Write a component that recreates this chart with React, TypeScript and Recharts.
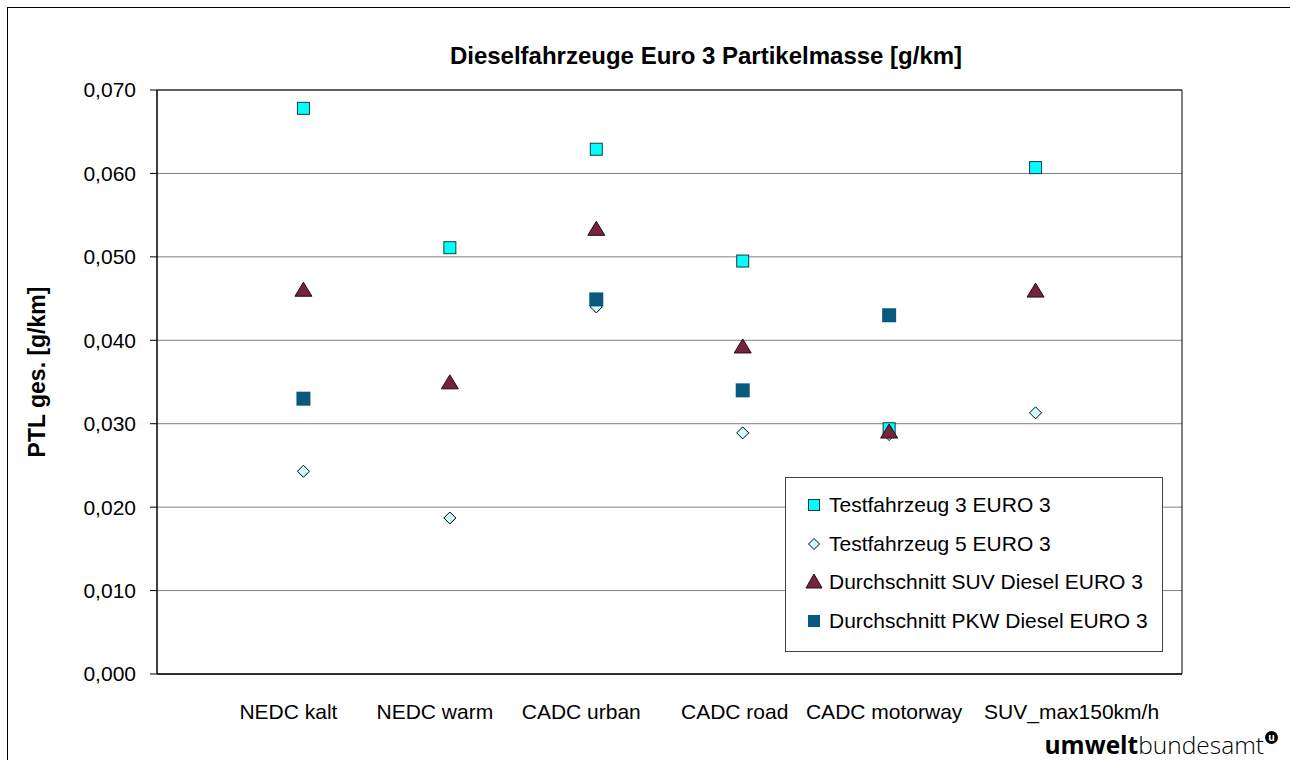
import React from 'react';
import { ScatterChart, Scatter, XAxis, YAxis, CartesianGrid, ReferenceArea, Legend } from 'recharts';

const CATEGORIES = ['NEDC kalt', 'NEDC warm', 'CADC urban', 'CADC road', 'CADC motorway', 'SUV_max150km/h'];
const TESTFAHRZEUG_3 = [0.0678, 0.0511, 0.0629, 0.0495, 0.0294, 0.0607];
const TESTFAHRZEUG_5 = [0.0243, 0.0187, 0.044, 0.0289, 0.0287, 0.0313];
const SUV_AVG = [0.046, 0.0349, 0.0533, 0.0392, 0.029, 0.0459];
const PKW_AVG = [0.033, null, 0.0449, 0.034, 0.043, null];
const Y_TICKS = [0, 0.01, 0.02, 0.03, 0.04, 0.05, 0.06, 0.07];

// label nudges so the long category names don't collide (like Excel does)
const LABEL_SHIFT = [-15, -15, -15, -8, -5, 36];

const FONT = '"Liberation Sans", Arial, sans-serif';

const toPoints = (values: (number | null)[]) =>
  values
    .map((v, i) => ({ x: i + 1, y: v }))
    .filter((p) => p.y !== null);

const SERIES = [
  { name: 'Testfahrzeug 3 EURO 3', data: toPoints(TESTFAHRZEUG_3), kind: 'square', fill: '#00FFFF', stroke: '#163c3c' },
  { name: 'Testfahrzeug 5 EURO 3', data: toPoints(TESTFAHRZEUG_5), kind: 'diamond', fill: '#CCFFFF', stroke: '#000000' },
  { name: 'Durchschnitt SUV Diesel EURO 3', data: toPoints(SUV_AVG), kind: 'triangle', fill: '#76233C', stroke: '#2a0a12' },
  { name: 'Durchschnitt PKW Diesel EURO 3', data: toPoints(PKW_AVG), kind: 'block', fill: '#08597D', stroke: 'none' },
];

const Marker = ({ kind, cx, cy, fill, stroke, small }: any) => {
  if (kind === 'square') {
    const s = small ? 11 : 12;
    return <rect x={cx - s / 2} y={cy - s / 2} width={s} height={s} fill={fill} stroke={stroke} strokeWidth={1} />;
  }
  if (kind === 'diamond') {
    const r = small ? 5.5 : 6;
    return <polygon points={`${cx},${cy - r} ${cx + r},${cy} ${cx},${cy + r} ${cx - r},${cy}`} fill={fill} stroke={stroke} strokeWidth={1} />;
  }
  if (kind === 'triangle') {
    const w = small ? 8 : 8.5;
    return <polygon points={`${cx},${cy - 8} ${cx + w},${cy + 6} ${cx - w},${cy + 6}`} fill={fill} stroke={stroke} strokeWidth={1} />;
  }
  const s = small ? 12 : 14;
  return <rect x={cx - s / 2} y={cy - s / 2} width={s} height={s} fill={fill} />;
};

const XTick = ({ x, y, payload }: any) => {
  const i = payload.value - 1;
  return (
    <text x={x + LABEL_SHIFT[i]} y={y + 45} textAnchor="middle" fontSize={21} fontFamily={FONT} fill="#000">
      {CATEGORIES[i]}
    </text>
  );
};

const LegendBox = () => (
  <div
    style={{
      width: 378,
      height: 175,
      boxSizing: 'border-box',
      border: '1px solid #444',
      background: '#fff',
      fontFamily: FONT,
      fontSize: 21,
      color: '#000',
      position: 'relative',
    }}
  >
    {SERIES.map((s, i) => (
      <div key={s.name} style={{ position: 'absolute', left: 0, top: 27 + i * 38.7 - 14, height: 28, display: 'flex', alignItems: 'center' }}>
        <svg width={40} height={28} style={{ display: 'block' }}>
          <Marker kind={s.kind} cx={28} cy={14} fill={s.fill} stroke={s.stroke} small />
        </svg>
        <span style={{ marginLeft: 3, whiteSpace: 'nowrap' }}>{s.name}</span>
      </div>
    ))}
  </div>
);

export default function App() {
  return (
    <div
      style={{
        position: 'absolute',
        left: 7,
        top: 7,
        width: 1283,
        height: 753,
        boxSizing: 'border-box',
        borderTop: '1px solid #000',
        borderLeft: '1px solid #000',
        background: '#fff',
      }}
    >
      <div
        style={{
          position: 'absolute',
          left: 0,
          width: 1396,
          top: 34,
          textAlign: 'center',
          fontFamily: FONT,
          fontWeight: 'bold',
          fontSize: 24,
          color: '#000',
        }}
      >
        Dieselfahrzeuge Euro 3 Partikelmasse [g/km]
      </div>
      <div
        style={{
          position: 'absolute',
          left: 29,
          top: 364,
          transform: 'translate(-50%, -50%) rotate(-90deg)',
          fontFamily: FONT,
          fontWeight: 'bold',
          fontSize: 23,
          whiteSpace: 'nowrap',
          color: '#000',
        }}
      >
        PTL ges. [g/km]
      </div>
      <ScatterChart width={1282} height={752} margin={{ top: 82, right: 108, bottom: 56, left: 0 }}>
        <CartesianGrid horizontal vertical={false} stroke="#808080" />
        <ReferenceArea x1={0} x2={7} y1={0} y2={0.07} fill="none" stroke="#000" strokeWidth={1} ifOverflow="extendDomain" />
        <XAxis
          type="number"
          dataKey="x"
          domain={[0, 7]}
          ticks={[1, 2, 3, 4, 5, 6]}
          height={30}
          tickLine={false}
          tickSize={0}
          tickMargin={0}
          axisLine={{ stroke: '#000' }}
          tick={<XTick />}
          interval={0}
        />
        <YAxis
          type="number"
          dataKey="y"
          domain={[0, 0.07]}
          ticks={Y_TICKS}
          width={149}
          tickSize={7}
          tickMargin={14}
          axisLine={{ stroke: '#000' }}
          tickLine={{ stroke: '#000' }}
          tick={{ fill: '#000', fontSize: 21, fontFamily: FONT }}
          tickFormatter={(v: number) => v.toFixed(3).replace('.', ',')}
          interval={0}
        />
        <Legend
          layout="horizontal"
          verticalAlign="middle"
          align="center"
          wrapperStyle={{ left: 777, top: 469, width: 378, height: 175 }}
          content={() => <LegendBox />}
        />
        {SERIES.map((s) => (
          <Scatter
            key={s.name}
            name={s.name}
            data={s.data}
            isAnimationActive={false}
            shape={(p: any) => <Marker kind={s.kind} cx={p.cx} cy={p.cy} fill={s.fill} stroke={s.stroke} />}
          />
        ))}
      </ScatterChart>
      <div
        style={{
          position: 'absolute',
          right: 12,
          top: 723,
          fontFamily: '"Open Sans", "DejaVu Sans", sans-serif',
          fontSize: 24.5,
          lineHeight: '27px',
          color: '#000',
          whiteSpace: 'nowrap',
        }}
      >
        <span style={{ fontWeight: 'bold' }}>umwelt</span>
        <span style={{ fontWeight: 300 }}>bundesamt</span>
        <span
          style={{
            display: 'inline-block',
            width: 13,
            height: 13,
            borderRadius: '50%',
            background: '#000',
            color: '#fff',
            fontSize: 10,
            lineHeight: '13px',
            textAlign: 'center',
            fontWeight: 'bold',
            verticalAlign: 'top',
            marginLeft: 1,
          }}
        >
          u
        </span>
      </div>
    </div>
  );
}
